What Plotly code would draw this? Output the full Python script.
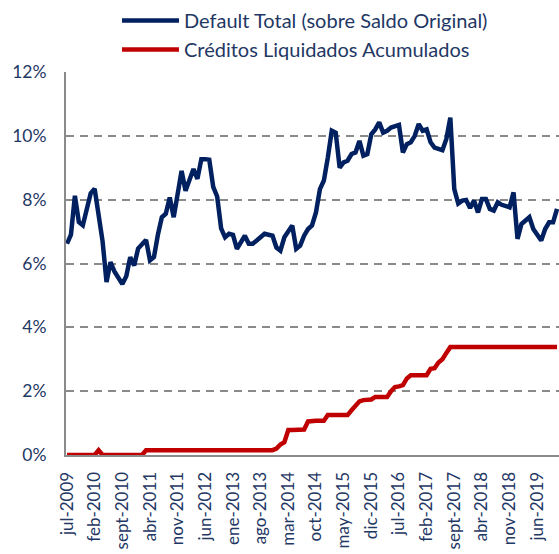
import plotly.graph_objects as go

month_names = ["ene", "feb", "mar", "abr", "may", "jun", "jul", "ago", "sept", "oct", "nov", "dic"]
start_year = 2009
start_month = 7  # julio
n_points = 125
categories = []
for k in range(n_points):
    m = (start_month - 1 + k) % 12
    y = start_year + (start_month - 1 + k) // 12
    categories.append(f"{month_names[m]}-{y}")

default_total = [
    6.62, 6.9, 8.12, 7.3, 7.2, 7.7, 8.2, 8.34, 7.5, 6.7,
    5.42, 6.04, 5.75, 5.55, 5.36, 5.6, 6.2, 5.94, 6.47, 6.6,
    6.74, 6.1, 6.2, 6.9, 7.45, 7.56, 8.07, 7.45, 8.2, 8.9,
    8.28, 8.6, 8.96, 8.65, 9.27, 9.27, 9.25, 8.4, 8.1, 7.1,
    6.82, 6.93, 6.9, 6.46, 6.65, 6.87, 6.62, 6.62, 6.72, 6.82,
    6.93, 6.9, 6.87, 6.5, 6.4, 6.82, 7.0, 7.19, 6.46, 6.56,
    6.87, 7.08, 7.19, 7.6, 8.33, 8.6, 9.32, 10.16, 10.1, 9.0,
    9.17, 9.22, 9.43, 9.48, 9.84, 9.38, 9.43, 10.05, 10.2, 10.42,
    10.1, 10.16, 10.26, 10.3, 10.34, 9.48, 9.74, 9.8, 10.0, 10.37,
    10.16, 10.2, 9.8, 9.63, 9.6, 9.55, 9.9, 10.57, 8.33, 7.88,
    7.97, 7.99, 7.74, 7.97, 7.6, 8.02, 8.02, 7.71, 7.66, 7.92,
    7.84, 7.8, 7.76, 8.23, 6.77, 7.24, 7.35, 7.45, 7.08, 6.9,
    6.72, 7.08, 7.29, 7.29, 7.71,
]

liquidados = [
    0, 0, 0, 0, 0, 0, 0, 0, 0.15, 0,
    0, 0, 0, 0, 0, 0, 0, 0, 0, 0,
    0.15, 0.15, 0.15, 0.15, 0.15, 0.15, 0.15, 0.15, 0.15, 0.15,
    0.15, 0.15, 0.15, 0.15, 0.15, 0.15, 0.15, 0.15, 0.15, 0.15,
    0.15, 0.15, 0.15, 0.15, 0.15, 0.15, 0.15, 0.15, 0.15, 0.15,
    0.15, 0.15, 0.15, 0.2, 0.33, 0.4, 0.78, 0.78, 0.78, 0.78,
    0.8, 1.05, 1.07, 1.07, 1.07, 1.07, 1.25, 1.25, 1.25, 1.25,
    1.25, 1.25, 1.4, 1.55, 1.68, 1.72, 1.73, 1.74, 1.82, 1.82,
    1.82, 1.82, 2.0, 2.13, 2.15, 2.19, 2.4, 2.5, 2.5, 2.5,
    2.5, 2.5, 2.7, 2.72, 2.9, 3.0, 3.2, 3.38, 3.38, 3.38,
    3.38, 3.38, 3.38, 3.38, 3.38, 3.38, 3.38, 3.38, 3.38, 3.38,
    3.38, 3.38, 3.38, 3.38, 3.38, 3.38, 3.38, 3.38, 3.38, 3.38,
    3.38, 3.38, 3.38, 3.38, 3.38,
]

y_ticks = [0, 2, 4, 6, 8, 10, 12]
y_tick_labels = ["0%", "2%", "4%", "6%", "8%", "10%", "12%"]
x_tick_step = 7

navy = "#1F3864"
grid = "#8A8A8A"
font_family = "Lato, 'Open Sans', sans-serif"

fig = go.Figure()
fig.add_trace(go.Scatter(
    x=categories, y=default_total, mode="lines",
    name="Default Total (sobre Saldo Original)",
    line=dict(color="#002060", width=4.5),
))
fig.add_trace(go.Scatter(
    x=categories, y=liquidados, mode="lines",
    name="Créditos Liquidados Acumulados",
    line=dict(color="#C00000", width=4.5),
))

fig.update_layout(
    width=559, height=554,
    margin=dict(l=66, r=0, t=72, b=99, autoexpand=False),
    paper_bgcolor="white", plot_bgcolor="white",
    font=dict(family=font_family, color=navy, size=17),
    showlegend=True,
    legend=dict(
        x=(117 - 66) / 493, xanchor="left",
        y=1 + (72 - 1) / 383, yanchor="top",
        font=dict(size=20, color=navy),
        itemwidth=57,
        tracegroupgap=0,
        bgcolor="rgba(0,0,0,0)",
    ),
    xaxis=dict(
        type="category",
        automargin=False,
        range=[-0.253, 124.5],
        tickmode="array",
        tickvals=categories[::x_tick_step],
        ticktext=categories[::x_tick_step],
        tickangle=-90,
        showgrid=False,
        showline=True, linecolor=grid, linewidth=2,
        ticks="outside", ticklen=8, tickcolor="rgba(0,0,0,0)",
        tickfont=dict(size=17, color=navy),
        zeroline=False,
    ),
    yaxis=dict(
        automargin=False,
        range=[0, 12],
        tickmode="array",
        tickvals=y_ticks,
        ticktext=y_tick_labels,
        showgrid=True, gridcolor=grid, gridwidth=2, griddash="8px,6px",
        showline=True, linecolor=grid, linewidth=2,
        ticks="outside", ticklen=14, tickcolor="rgba(0,0,0,0)",
        tickfont=dict(size=17.5, color=navy),
        zeroline=False,
    ),
)

fig.write_html("out.html")
